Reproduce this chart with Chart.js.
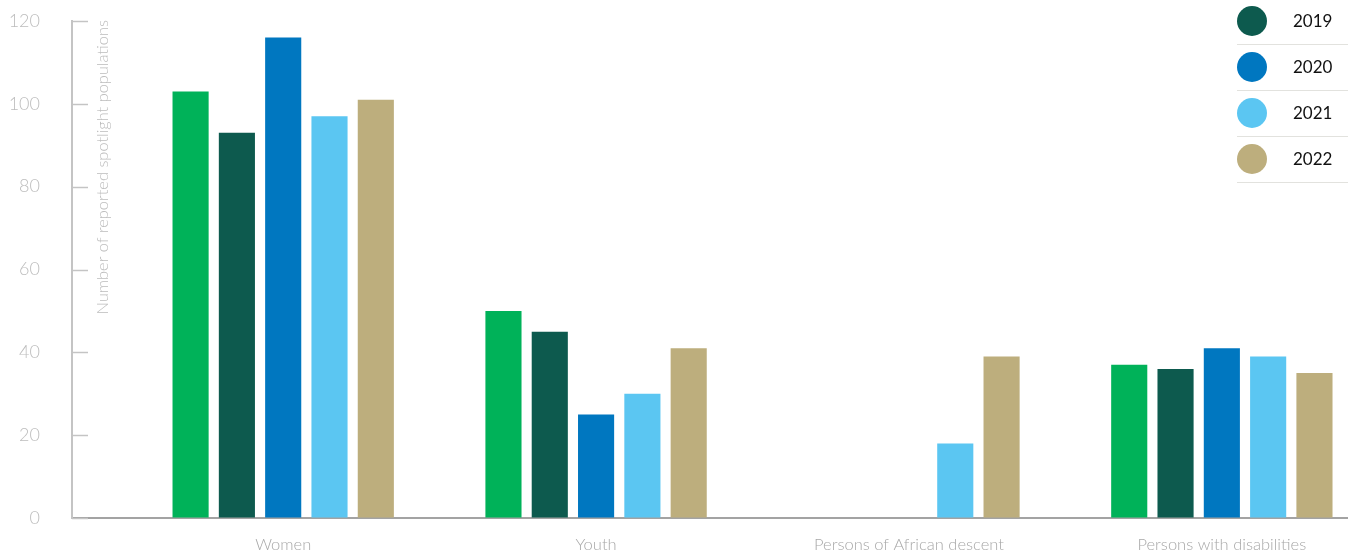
<!DOCTYPE html>
<html>
<head>
<meta charset="utf-8">
<script src="https://cdn.jsdelivr.net/npm/chart.js@4"></script>
<style>
  body { margin: 0; background: #fff; }
  #wrap { width: 1367px; height: 554px; position: relative; }
</style>
</head>
<body>
<div id="wrap"><canvas id="chart_one"></canvas></div>
<script>
const categories = ['Women', 'Youth', 'Persons of African descent', 'Persons with disabilities'];
const years = ['2018', '2019', '2020', '2021', '2022'];
const v2018 = [103, 50, null, 37];
const v2019 = [93, 45, null, 36];
const v2020 = [116, 25, null, 41];
const v2021 = [97, 30, 18, 39];
const v2022 = [101, 41, 39, 35];
const yTicks = [0, 20, 40, 60, 80, 100, 120];

const colors = ['#00b259', '#0d5a4e', '#0077c0', '#5bc6f2', '#bdae7d'];
const series = [v2018, v2019, v2020, v2021, v2022];
// legend in the picture starts at 2019 (first entry is cropped off)
const legendYears = ['2019', '2020', '2021', '2022'];

const ctx = document.getElementById('chart_one');

const extras = {
  id: 'extras',
  afterDraw(chart) {
    const c = chart.ctx;
    const y = chart.scales.y;
    const left = chart.chartArea.left;
    c.save();
    // tick marks point inward
    c.strokeStyle = '#c4c4c4';
    c.lineWidth = 1.5;
    yTicks.forEach(t => {
      const py = Math.round(y.getPixelForValue(t)) + 0.5;
      c.beginPath();
      c.moveTo(left, py);
      c.lineTo(left + 16, py);
      c.stroke();
    });
    // axis title sits inside the plot, top aligned
    c.translate(103, chart.chartArea.top - 1);
    c.rotate(-Math.PI / 2);
    c.fillStyle = '#bdbdbd';
    c.font = '300 16.4px Lato';
    c.textAlign = 'right';
    c.textBaseline = 'middle';
    c.fillText('Number of reported spotlight populations', 0, 0);
    c.restore();

    // legend
    c.save();
    legendYears.forEach((yr, i) => {
      const ds = chart.data.datasets.find(d => d.label === yr);
      const cy = 21 + i * 46;
      c.fillStyle = ds.backgroundColor;
      c.beginPath();
      c.arc(1252, cy, 15, 0, Math.PI * 2);
      c.fill();
      c.fillStyle = '#111';
      c.font = '17px Lato';
      c.textAlign = 'left';
      c.textBaseline = 'middle';
      c.fillText(yr, 1293, cy + 1);
      c.strokeStyle = '#e2e2de';
      c.lineWidth = 1;
      c.beginPath();
      c.moveTo(1237, cy + 23.5);
      c.lineTo(1348, cy + 23.5);
      c.stroke();
    });
    c.restore();
  }
};

new Chart(ctx, {
  type: 'bar',
  data: {
    datasets: years.map((yr, k) => ({
      label: yr,
      data: series[k].map((v, i) => ({ x: i, y: v })),
      backgroundColor: colors[k],
      borderWidth: 0,
      categoryPercentage: 0.74,
      barPercentage: 0.78
    }))
  },
  options: {
    responsive: true,
    maintainAspectRatio: false,
    animation: false,
    layout: { padding: { top: 21, right: 20, left: 0, bottom: 0 } },
    plugins: {
      legend: { display: false },
      tooltip: { enabled: false }
    },
    scales: {
      x: {
        type: 'linear',
        min: -0.675,
        max: 3.4,
        bounds: 'data',
        offset: false,
        grid: { display: true, drawOnChartArea: false, drawTicks: true, tickLength: 17, tickColor: 'rgba(0,0,0,0)' },
        border: { display: true, color: '#a3a3a3', width: 2 },
        ticks: {
          autoSkip: false,
          maxRotation: 0,
          padding: 0,
          color: '#a8a8a8',
          font: { family: 'Lato', size: 16.5, weight: '300' },
          callback: v => categories[v] ?? ''
        },
        afterBuildTicks(scale) {
          scale.ticks = categories.map((c, i) => ({ value: i }));
        },
        afterFit(scale) { scale.height = 36; }
      },
      y: {
        min: 0,
        max: 120,
        grid: { display: true, drawOnChartArea: false, drawTicks: true, tickLength: 32, tickColor: 'rgba(0,0,0,0)' },
        border: { display: true, color: '#c4c4c4', width: 2 },
        ticks: {
          stepSize: 20,
          padding: 0,
          color: '#bdbdbd',
          font: { family: 'Lato', size: 18, weight: '300' }
        },
        afterFit(scale) { scale.width = 72; }
      }
    }
  },
  plugins: [extras]
});
</script>
</body>
</html>
